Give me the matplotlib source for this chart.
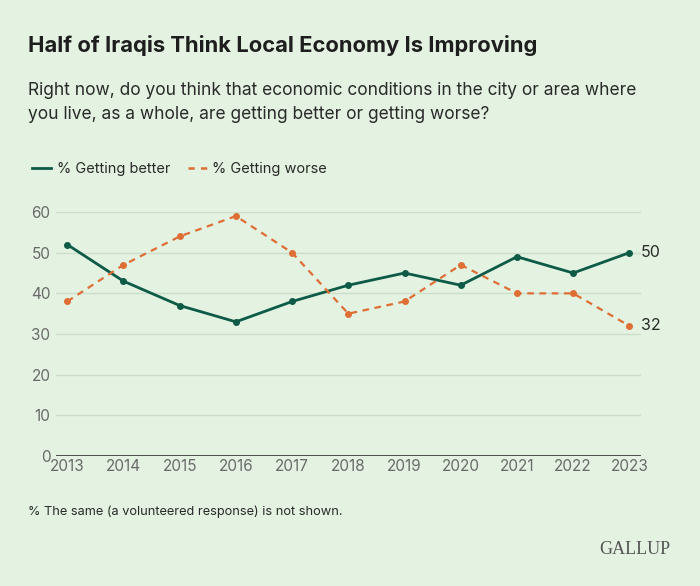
import matplotlib.pyplot as plt
from matplotlib.lines import Line2D

# data
years = [2013, 2014, 2015, 2016, 2017, 2018, 2019, 2020, 2021, 2022, 2023]
better = [52, 43, 37, 33, 38, 42, 45, 42, 49, 45, 50]
worse = [38, 47, 54, 59, 50, 35, 38, 47, 40, 40, 32]
yticks = [0, 10, 20, 30, 40, 50, 60]

bg = '#E3F2E1'
green = '#0D5A47'
orange = '#DF6E35'
grid_c = '#CCDDCB'
text_c = '#2A2A2A'

plt.rcParams['font.family'] = ['Inter', 'DejaVu Sans']

fig = plt.figure(figsize=(7, 5.86), dpi=100, facecolor=bg)
ax = fig.add_axes([0.08, 0.2218, 0.836, 0.4164])
ax.set_facecolor(bg)

ax.plot(years, better, color=green, lw=2, marker='o', ms=4, clip_on=False, zorder=3)
ax.plot(years, worse, color=orange, lw=1.6, ls=(0, (3, 2.5)), marker='o', ms=4,
        clip_on=False, zorder=3)

ax.text(years[-1] + 0.2, better[-1], str(better[-1]), va='center', ha='left',
        fontsize=11.5, color=text_c)
ax.text(years[-1] + 0.2, worse[-1], str(worse[-1]), va='center', ha='left',
        fontsize=11.5, color=text_c)

ax.set_xlim(2012.80, 2023.21)
ax.set_ylim(0, 60)
ax.set_yticks(yticks)
ax.set_xticks(years)
ax.tick_params(length=0, labelsize=11, labelcolor='#6A6A6A', pad=2)
ax.tick_params(axis='y', pad=4)
for sp in ax.spines.values():
    sp.set_visible(False)
ax.axhline(0, color='#333333', lw=1.2, zorder=2)
ax.grid(axis='y', color=grid_c, lw=1)
ax.grid(axis='x', visible=False)
ax.set_axisbelow(True)

fig.text(0.04, 0.922, 'Half of Iraqis Think Local Economy Is Improving',
         fontsize=15.8, fontweight='bold', color='#1E1E1E', va='center')
fig.text(0.04, 0.825, 'Right now, do you think that economic conditions in the city or area where\n'
         'you live, as a whole, are getting better or getting worse?',
         fontsize=12.5, color=text_c, va='center', linespacing=1.55)

handles = [Line2D([], [], color=green, lw=2),
           Line2D([], [], color=orange, lw=1.8, ls=(0, (2.5, 2.5)))]
fig.legend(handles, ['% Getting better', '% Getting worse'], loc='center left',
           bbox_to_anchor=(0.027, 0.712), ncol=2, frameon=False, fontsize=10.5,
           handlelength=1.3, handletextpad=0.4, columnspacing=1.2,
           labelcolor=text_c)

fig.text(0.04, 0.127, '% The same (a volunteered response) is not shown.',
         fontsize=9.2, color=text_c, va='center')
fig.text(0.957, 0.062, 'GALLUP', fontsize=13, color='#555555', ha='right',
         va='center', family=['Liberation Serif', 'DejaVu Serif'])

fig.savefig('out.png', dpi=100, facecolor=bg)
